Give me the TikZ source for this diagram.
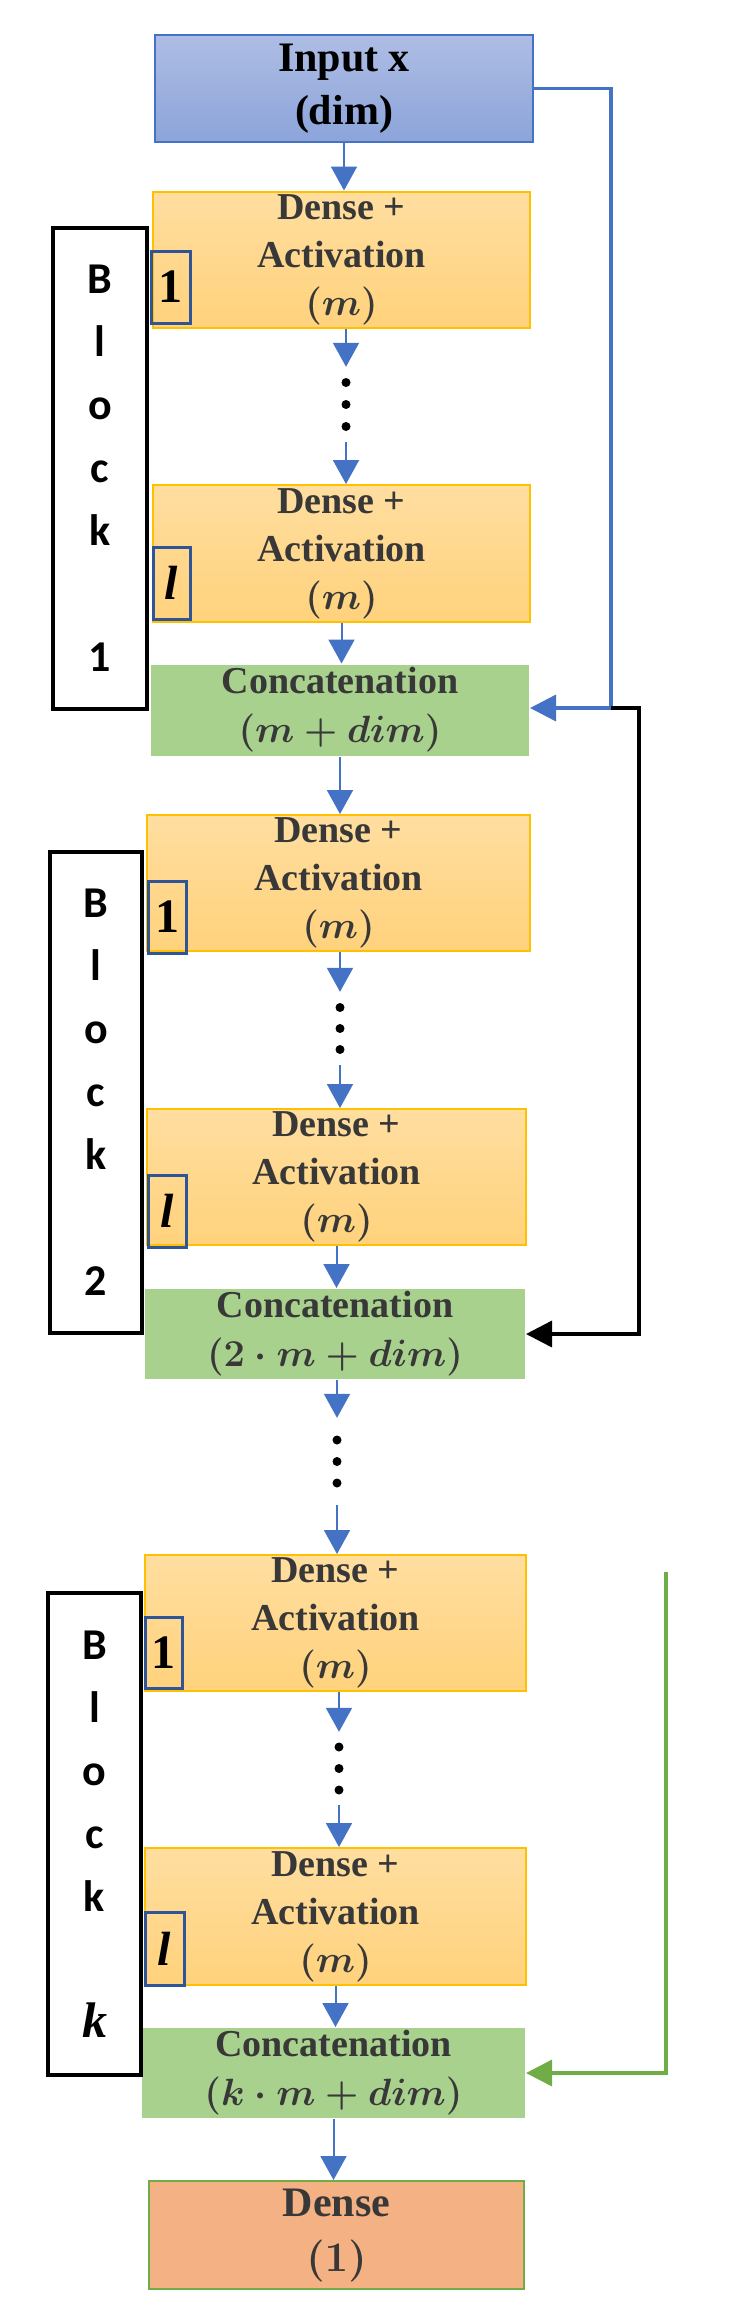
\RequirePackage{fix-cm}
\documentclass[tikz,border=0pt]{standalone}
\usepackage{fontspec}
\setmainfont{Liberation Serif}
\newfontfamily\lblfont{Carlito}
\usetikzlibrary{arrows.meta,calc}
\definecolor{inblue}{HTML}{4472C4}
\definecolor{intop}{HTML}{AEBDE4}
\definecolor{inbot}{HTML}{8CA4DA}
\definecolor{gold}{HTML}{FFC000}
\definecolor{dtop}{HTML}{FFDEA0}
\definecolor{dbot}{HTML}{FFD27C}
\definecolor{cgreen}{HTML}{A9D18E}
\definecolor{ogreen}{HTML}{70AD47}
\definecolor{oorange}{HTML}{F4B183}
\definecolor{nblue}{HTML}{2F5597}
\definecolor{txt}{HTML}{383838}
\definecolor{ablue}{HTML}{4472C4}
\newcommand{\mth}[1]{{\boldmath$#1$}}
\begin{document}
\begin{tikzpicture}[x=1pt,y=-1pt,
  box/.style={rectangle, inner sep=0pt, align=center, line width=2pt},
  inbox/.style={box, draw=inblue, top color=intop, bottom color=inbot,
    font=\fontsize{42}{53}\selectfont\bfseries},
  densebox/.style={box, draw=gold, top color=dtop, bottom color=dbot, text=txt,
    font=\fontsize{38}{48}\selectfont\bfseries, minimum height=136pt},
  concatbox/.style={box, fill=cgreen, text=txt,
    font=\fontsize{38}{49}\selectfont\bfseries, minimum height=90pt},
  outbox/.style={box, draw=ogreen, fill=oorange, text=txt,
    font=\fontsize{42}{55}\selectfont\bfseries},
  numbox/.style={rectangle, draw=nblue, line width=3pt, inner sep=0pt,
    font=\fontsize{48}{48}\selectfont\bfseries},
  blockbox/.style={rectangle, draw=black, line width=3.5pt, fill=white, align=center,
    inner sep=0pt, font=\lblfont\fontsize{44}{63}\selectfont\bfseries},
  dotsnode/.style={rectangle, inner sep=0pt, minimum width=10pt},
  arr/.style={draw=ablue, line width=2pt, -{Triangle[width=26pt,length=24pt]}},
  side/.style={line width=3.5pt, -{Triangle[width=26pt,length=26pt]}}
]
\useasboundingbox (0,0) rectangle (730,2321);

% Input
\node[inbox, minimum width=378pt, minimum height=107pt] (in) at (344,88.5) {Input x\\(dim)};

% Block 1
\node[densebox, minimum width=377pt] (d11) at (341.5,259.5) {Dense +\\Activation\\\mth{(m)}};
\node[dotsnode, minimum height=75pt] (p1) at (346,404.5) {};
\node[densebox, minimum width=377pt, minimum height=137pt] (d1l) at (341.5,553.5) {Dense +\\Activation\\\mth{(m)}};
\node[concatbox, minimum width=378pt, minimum height=91pt] (c1) at (340,710) {Concatenation\\\mth{(m+dim)}};
\node[numbox, minimum width=39pt, minimum height=72pt] (s11) at (170.5,287) {1};
\node[numbox, minimum width=37pt, minimum height=72pt] (s1l) at (171.5,583) {\itshape l};
\node[blockbox, minimum width=94pt, minimum height=481pt] (b1) at (100,468.5) {B\\l\\o\\c\\k\\[63pt]1};

% Block 2
\node[densebox, minimum width=383pt] (d21) at (338.5,883) {Dense +\\Activation\\\mth{(m)}};
\node[dotsnode, minimum height=73pt] (p2) at (340,1028.5) {};
\node[densebox, minimum width=379pt] (d2l) at (336.5,1177) {Dense +\\Activation\\\mth{(m)}};
\node[concatbox, minimum width=380pt] (c2) at (335,1334) {Concatenation\\\mth{(2\cdot m+dim)}};
\node[numbox, minimum width=38pt, minimum height=72pt] (s21) at (167,917) {1};
\node[numbox, minimum width=38pt, minimum height=72pt] (s2l) at (167,1211) {\itshape l};
\node[blockbox, minimum width=92pt, minimum height=481pt] (b2) at (96,1092.5) {B\\l\\o\\c\\k\\[63pt]2};

% middle dots
\node[dotsnode, minimum height=87pt] (pm) at (337,1461.5) {};

% Block k
\node[densebox, minimum width=381pt] (dk1) at (335.5,1623) {Dense +\\Activation\\\mth{(m)}};
\node[dotsnode, minimum height=73pt] (pk) at (339,1768.5) {};
\node[densebox, minimum width=381pt, minimum height=137pt] (dkl) at (335.5,1916.5) {Dense +\\Activation\\\mth{(m)}};
\node[concatbox, minimum width=383pt] (ck) at (333.5,2073) {Concatenation\\\mth{(k\cdot m+dim)}};
\node[numbox, minimum width=37pt, minimum height=71pt] (sk1) at (163.5,1652.5) {1};
\node[numbox, minimum width=39pt, minimum height=73pt] (skl) at (164.5,1948.5) {\itshape l};
\node[blockbox, minimum width=93pt, minimum height=482pt] (bk) at (94.5,1834) {B\\l\\o\\c\\k\\[63pt]{\rmfamily\itshape\fontsize{50}{63}\selectfont k}};

% Output
\node[outbox, minimum width=375pt, minimum height=108pt] (out) at (336.5,2235) {Dense\\\mth{(1)}};

% dots
\foreach \p/\s in {p1/22, p2/21, pm/21.5, pk/21.5}{
  \fill[black] (\p.center) circle[radius=4.5pt];
  \fill[black] ($(\p.center)+(0,-\s)$) circle[radius=4.5pt];
  \fill[black] ($(\p.center)+(0,\s)$) circle[radius=4.5pt];
}

% vertical arrows
\draw[arr] (in.south) -- (in.south |- d11.north);
\draw[arr] (p1.north |- d11.south) -- (p1.north);
\draw[arr] (p1.south) -- (p1.south |- d1l.north);
\draw[arr] (d1l.south) -- (d1l.south |- c1.north);
\draw[arr] (c1.south) -- (c1.south |- d21.north);
\draw[arr] (p2.north |- d21.south) -- (p2.north);
\draw[arr] (p2.south) -- (p2.south |- d2l.north);
\draw[arr] (d2l.south) -- (d2l.south |- c2.north);
\draw[arr] (pm.north |- c2.south) -- (pm.north);
\draw[arr] (pm.south) -- (pm.south |- dk1.north);
\draw[arr] (pk.north |- dk1.south) -- (pk.north);
\draw[arr] (pk.south) -- (pk.south |- dkl.north);
\draw[arr] (dkl.south) -- (dkl.south |- ck.north);
\draw[arr] (ck.south) -- (ck.south |- out.north);

% side connectors
\coordinate (jb) at (611,708);
\coordinate (jk) at (639,708);
\coordinate (gt) at (666,1572);
\draw[side, ablue] (in.east) -| (jb) -- (jb -| c1.east);
\draw[side, black] (jb) -- (jk) |- (c2.east);
\draw[side, ogreen] (gt) |- (ck.east);
\end{tikzpicture}
\end{document}
